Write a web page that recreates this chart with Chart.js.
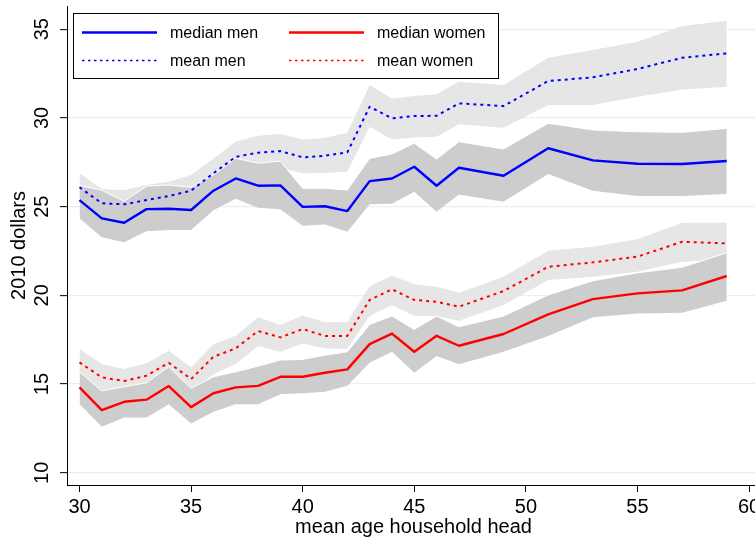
<!DOCTYPE html>
<html>
<head>
<meta charset="utf-8">
<script src="https://cdn.jsdelivr.net/npm/chart.js@4"></script>
<style>
  html, body { margin: 0; padding: 0; overflow: hidden; background: #fff; }
  #wrap { width: 760px; height: 538px; }
</style>
</head>
<body>
<div id="wrap"><canvas id="chart" width="760" height="538"></canvas></div>
<script>
// mean age of household head
const ages = [30, 31, 32, 33, 34, 35, 36, 37, 38, 39, 40, 41, 42, 43, 44, 45, 46, 47, 49, 51, 53, 55, 57, 59];

// men, 2010 dollars
const medianMen   = [25.37, 24.34, 24.09, 24.86, 24.88, 24.81, 25.90, 26.59, 26.18, 26.20, 24.99, 25.02, 24.75, 26.44, 26.59, 27.25, 26.18, 27.19, 26.74, 28.29, 27.61, 27.42, 27.40, 27.57];
const medianMenHi = [26.20, 25.92, 25.30, 26.15, 26.22, 26.09, 26.78, 27.72, 27.45, 27.56, 26.03, 26.03, 25.94, 27.72, 27.97, 28.57, 27.68, 28.66, 28.25, 29.70, 29.32, 29.22, 29.19, 29.41];
const medianMenLo = [24.34, 23.27, 23.00, 23.62, 23.68, 23.68, 24.80, 25.45, 24.94, 24.85, 23.92, 24.00, 23.59, 25.13, 25.17, 25.84, 24.71, 25.69, 25.28, 26.84, 25.90, 25.60, 25.60, 25.71];
const meanMen     = [26.09, 25.19, 25.13, 25.37, 25.60, 25.90, 26.88, 27.81, 28.04, 28.13, 27.78, 27.87, 28.06, 30.63, 29.98, 30.11, 30.12, 30.82, 30.67, 32.08, 32.29, 32.76, 33.39, 33.64];
const meanMenHi   = [26.88, 25.99, 25.94, 26.22, 26.40, 26.78, 27.72, 28.66, 29.00, 29.09, 28.79, 28.88, 29.17, 31.85, 31.10, 31.24, 31.33, 32.04, 31.85, 33.39, 33.83, 34.30, 35.18, 35.48];
const meanMenLo   = [25.30, 24.40, 24.30, 24.50, 24.80, 25.00, 26.00, 26.95, 27.10, 27.20, 26.88, 26.90, 26.97, 29.50, 28.79, 28.90, 28.94, 29.64, 29.45, 30.73, 30.73, 31.20, 31.61, 31.76];

// women, 2010 dollars
const medianWomen   = [14.81, 13.53, 14.00, 14.12, 14.89, 13.70, 14.48, 14.81, 14.90, 15.41, 15.41, 15.64, 15.83, 17.25, 17.84, 16.82, 17.72, 17.16, 17.82, 18.93, 19.79, 20.11, 20.28, 21.09];
const medianWomenHi = [15.69, 14.61, 14.85, 15.07, 15.98, 14.76, 15.41, 15.69, 16.01, 16.35, 16.39, 16.63, 16.82, 18.36, 18.83, 18.08, 18.83, 18.23, 18.83, 20.02, 20.82, 21.27, 21.58, 22.40];
const medianWomenLo = [13.87, 12.59, 13.12, 13.12, 13.86, 12.78, 13.44, 13.86, 13.86, 14.42, 14.48, 14.57, 14.90, 16.20, 16.82, 15.64, 16.58, 16.11, 16.82, 17.71, 18.76, 18.98, 19.02, 19.70];
const meanWomen     = [16.22, 15.38, 15.17, 15.47, 16.20, 15.28, 16.54, 17.01, 17.99, 17.63, 18.10, 17.71, 17.71, 19.74, 20.34, 19.74, 19.64, 19.36, 20.24, 21.61, 21.86, 22.18, 23.02, 22.93];
const meanWomenHi   = [16.97, 16.11, 15.85, 16.17, 16.88, 15.94, 17.24, 17.72, 18.76, 18.33, 18.87, 18.48, 18.48, 20.52, 21.10, 20.62, 20.49, 20.15, 21.05, 22.51, 22.74, 23.16, 24.09, 24.09];
const meanWomenLo   = [15.50, 14.60, 14.50, 14.80, 15.50, 14.60, 15.55, 16.13, 17.14, 16.82, 17.29, 17.01, 16.97, 18.83, 19.45, 18.83, 18.83, 18.57, 19.45, 20.86, 21.05, 21.33, 21.89, 22.03];

const xTicks = [30, 35, 40, 45, 50, 55, 60];
const yTicks = [10, 15, 20, 25, 30, 35];

const FONT = '"Liberation Sans", Arial, Helvetica, sans-serif';
const LIGHT = '#e6e6e6';
const DARK = '#cdcdcd';

function pts(ys) {
    return ages.map((a, i) => ({ x: a, y: ys[i] }));
}

function band(ys, order) {
    return { data: pts(ys), borderWidth: 0, pointRadius: 0, fill: false, order: order };
}

function bandTop(ys, color, order, edge) {
    return {
        data: pts(ys), pointRadius: 0, fill: '-1', backgroundColor: color,
        borderColor: edge ? '#ffffff' : 'rgba(0,0,0,0)', borderWidth: edge ? 1 : 0,
        order: order
    };
}

function line(label, ys, color, dashed) {
    return {
        label: label, data: pts(ys), borderColor: color,
        borderWidth: dashed ? 2 : 2.4, borderDash: dashed ? [3, 4] : [],
        pointRadius: 0, fill: false, order: dashed ? 1 : 0, legend: true
    };
}

// legend drawn as a boxed two-column key inside the plot
const boxLegend = {
    id: 'boxLegend',
    afterDraw(chart) {
        const ctx = chart.ctx;
        const items = chart.data.datasets.filter(d => d.legend);
        ctx.save();
        ctx.fillStyle = '#fff';
        ctx.fillRect(73.5, 13.5, 425, 65);
        ctx.strokeStyle = '#000';
        ctx.lineWidth = 1;
        ctx.strokeRect(73.5, 13.5, 425, 65);
        ctx.font = '16px ' + FONT;
        ctx.textBaseline = 'middle';
        ctx.textAlign = 'left';
        // order in the key: median men, median women / mean men, mean women
        const layout = [
            ['median men', 0, 0], ['median women', 1, 0],
            ['mean men', 0, 1], ['mean women', 1, 1]
        ];
        layout.forEach(([lab, col, row]) => {
            const d = items.find(it => it.label === lab);
            const x0 = 82 + col * 207;
            const y = 32.5 + row * 28;
            ctx.beginPath();
            ctx.strokeStyle = d.borderColor;
            ctx.lineWidth = d.borderDash.length ? 1.4 : 2.4;
            ctx.setLineDash(d.borderDash.length ? [2.5, 3.5] : []);
            ctx.moveTo(x0, y);
            ctx.lineTo(x0 + 75, y);
            ctx.stroke();
            ctx.setLineDash([]);
            ctx.fillStyle = '#000';
            ctx.fillText(lab, x0 + 88, y + 1);
        });
        ctx.restore();
    }
};

// rotated y tick labels, as in the reference
const yLabels = {
    id: 'yLabels',
    afterDraw(chart) {
        const ctx = chart.ctx;
        const s = chart.scales.y;
        ctx.save();
        ctx.font = '20px ' + FONT;
        ctx.fillStyle = '#000';
        ctx.textAlign = 'center';
        ctx.textBaseline = 'middle';
        s.ticks.forEach(t => {
            const y = s.getPixelForValue(t.value);
            ctx.save();
            ctx.translate(42, y);
            ctx.rotate(-Math.PI / 2);
            ctx.fillText(String(t.value), 0, 0);
            ctx.restore();
        });
        ctx.restore();
    }
};

new Chart(document.getElementById('chart'), {
    type: 'line',
    data: {
        datasets: [
            band(meanMenLo, 9), bandTop(meanMenHi, LIGHT, 8, false),
            band(meanWomenLo, 9), bandTop(meanWomenHi, LIGHT, 8, false),
            band(medianMenLo, 5), bandTop(medianMenHi, DARK, 4, true),
            band(medianWomenLo, 5), bandTop(medianWomenHi, DARK, 4, true),
            line('mean men', meanMen, '#0000ff', true),
            line('median men', medianMen, '#0000ff', false),
            line('mean women', meanWomen, '#ff0000', true),
            line('median women', medianWomen, '#ff0000', false)
        ]
    },
    options: {
        responsive: false,
        animation: false,
        devicePixelRatio: 1,
        layout: { padding: { top: 6, right: 0, left: 0, bottom: 0 } },
        elements: { line: { tension: 0, borderJoinStyle: 'round' } },
        plugins: {
            legend: { display: false },
            tooltip: { enabled: false }
        },
        scales: {
            x: {
                type: 'linear',
                min: 29.44,
                max: 60.49,
                afterBuildTicks: s => { s.ticks = xTicks.map(v => ({ value: v })); },
                afterFit: s => { s.height = 53; s.paddingLeft = 0; s.paddingRight = 0; },
                grid: { drawOnChartArea: false, tickLength: 7, tickColor: '#000', tickWidth: 1 },
                border: { color: '#000', width: 1 },
                ticks: { font: { size: 20, family: FONT }, color: '#000', padding: 3, maxRotation: 0, autoSkip: false },
                title: {
                    display: true, text: 'mean age household head', color: '#000',
                    font: { size: 20, family: FONT, lineHeight: 1 }, padding: { top: 0, bottom: 1 }
                }
            },
            y: {
                type: 'linear',
                min: 9.31,
                max: 36.31,
                afterBuildTicks: s => { s.ticks = yTicks.map(v => ({ value: v })); },
                afterFit: s => { s.width = 67; s.paddingTop = 0; s.paddingBottom = 0; },
                grid: { color: '#e8eff2', lineWidth: 1.3, tickLength: 7, tickColor: '#000', tickWidth: 1 },
                border: { color: '#000', width: 1 },
                ticks: { display: false },
                title: {
                    display: true, text: '2010 dollars', color: '#000',
                    font: { size: 20, family: FONT, lineHeight: 1.2 }, padding: { top: 7, bottom: 0 }
                }
            }
        }
    },
    plugins: [boxLegend, yLabels]
});
</script>
</body>
</html>
